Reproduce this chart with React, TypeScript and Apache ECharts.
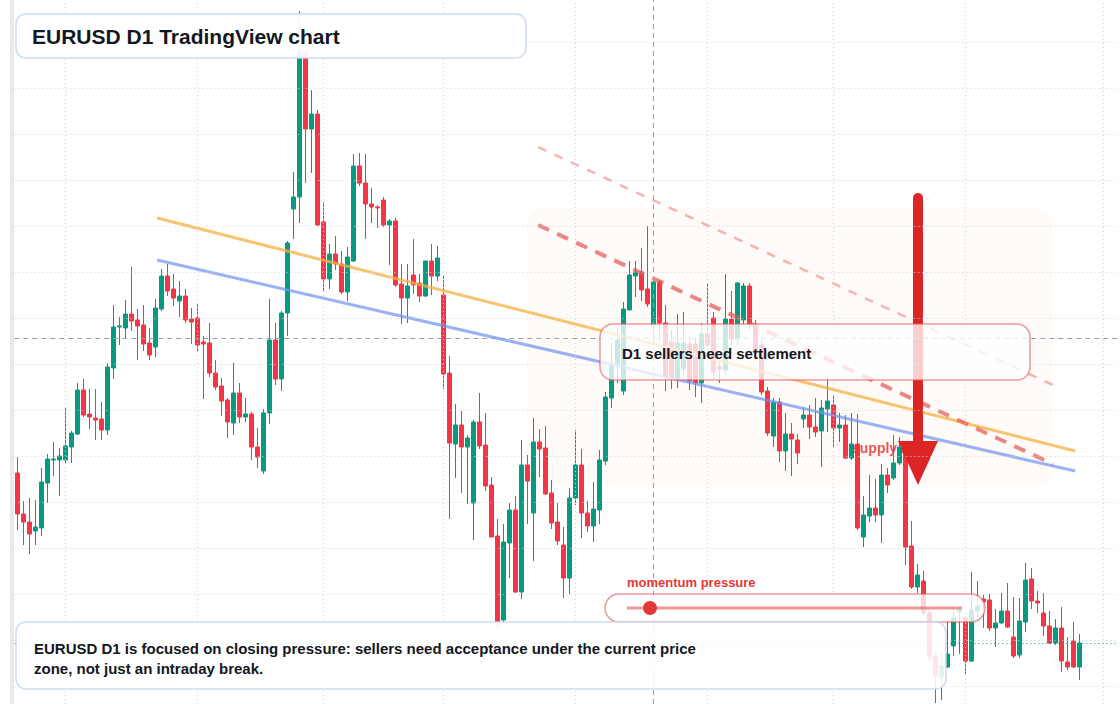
import React, { useEffect, useRef } from "react";
import * as echarts from "echarts";

// ---- Candle values (EURUSD D1) ----
const opens = [
  1.0793, 1.0752, 1.0744, 1.0735, 1.0738, 1.0783, 1.0806, 1.0806, 1.0806, 1.0819,
  1.0832, 1.0876, 1.0852, 1.0848, 1.0847, 1.0836, 1.0898, 1.0939, 1.0938, 1.0952,
  1.0946, 1.0941, 1.0923, 1.0919, 1.0957, 1.0990, 1.0977, 1.0965, 1.0970, 1.0947,
  1.0948, 1.0924, 1.0923, 1.0893, 1.0880, 1.0866, 1.0843, 1.0873, 1.0849, 1.0852,
  1.0819, 1.0795, 1.0853, 1.0926, 1.0887, 1.0953, 1.1057, 1.1069, 1.1214, 1.1137,
  1.1152, 1.1044, 1.0987, 1.1012, 1.1002, 1.0974, 1.1005, 1.1100, 1.1083, 1.1062,
  1.1059, 1.1066, 1.1041, 1.1045, 1.0982, 1.0968, 1.0991, 1.0983, 1.0970, 1.1005,
  1.0990, 1.0971, 1.0893, 1.0822, 1.0841, 1.0819, 1.0763, 1.0844, 1.0821, 1.0781,
  1.0730, 1.0646, 1.0723, 1.0756, 1.0674, 1.0801, 1.0753, 1.0824, 1.0818, 1.0773,
  1.0744, 1.0721, 1.0688, 1.0768, 1.0801, 1.0753, 1.0740, 1.0756, 1.0805, 1.0868,
  1.0902, 1.0875, 1.0956, 1.0990, 1.0994, 1.0977, 1.0941, 1.0984, 1.0943, 1.0924,
  1.0887, 1.0897, 1.0922, 1.0922, 1.0883, 1.0932, 1.0948, 1.0899, 1.0896, 1.0947,
  1.0927, 1.0946, 1.0980, 1.0942, 1.0921, 1.0875, 1.0830, 1.0864, 1.0815, 1.0832,
  1.0826, 1.0847, 1.0851, 1.0839, 1.0835, 1.0857, 1.0861, 1.0838, 1.0841, 1.0808,
  1.0822, 1.0729, 1.0750, 1.0758, 1.0751, 1.0791, 1.0788, 1.0803, 1.0819, 1.0720,
  1.0679, 1.0685, 1.0653, 1.0610, 1.0589, 1.0599, 1.0620, 1.0654, 1.0648, 1.0605,
  1.0655, 1.0667, 1.0666, 1.0638, 1.0643, 1.0655, 1.0629, 1.0611, 1.0644, 1.0687,
  1.0665, 1.0653, 1.0640, 1.0623, 1.0638, 1.0604, 1.0625, 1.0599,
];

const closes = [
  1.0752, 1.0744, 1.0732, 1.0739, 1.0784, 1.0807, 1.0807, 1.0810, 1.0820, 1.0833,
  1.0876, 1.0851, 1.0849, 1.0846, 1.0836, 1.0899, 1.0939, 1.0940, 1.0952, 1.0945,
  1.0940, 1.0922, 1.0911, 1.0958, 1.0990, 1.0975, 1.0968, 1.0970, 1.0946, 1.0944,
  1.0921, 1.0922, 1.0893, 1.0879, 1.0865, 1.0844, 1.0873, 1.0849, 1.0852, 1.0819,
  1.0809, 1.0853, 1.0926, 1.0887, 1.0953, 1.1023, 1.1069, 1.1214, 1.1137, 1.1152,
  1.1041, 1.0987, 1.1012, 1.1002, 1.0974, 1.1009, 1.1100, 1.1083, 1.1062, 1.1059,
  1.1058, 1.1041, 1.1045, 1.0981, 1.0968, 1.0980, 1.0981, 1.0970, 1.1005, 1.0990,
  1.1008, 1.0892, 1.0823, 1.0841, 1.0819, 1.0828, 1.0844, 1.0820, 1.0780, 1.0729,
  1.0644, 1.0724, 1.0756, 1.0674, 1.0801, 1.0785, 1.0824, 1.0817, 1.0772, 1.0743,
  1.0725, 1.0688, 1.0768, 1.0801, 1.0753, 1.0740, 1.0757, 1.0806, 1.0869, 1.0902,
  1.0926, 1.0957, 1.0991, 1.0994, 1.0976, 1.0962, 1.0984, 1.0943, 1.0889, 1.0888,
  1.0923, 1.0923, 1.0885, 1.0883, 1.0932, 1.0921, 1.0894, 1.0897, 1.0947, 1.0927,
  1.0983, 1.0980, 1.0942, 1.0914, 1.0874, 1.0833, 1.0864, 1.0815, 1.0832, 1.0827,
  1.0813, 1.0851, 1.0839, 1.0834, 1.0858, 1.0865, 1.0838, 1.0841, 1.0808, 1.0822,
  1.0738, 1.0751, 1.0758, 1.0751, 1.0791, 1.0781, 1.0803, 1.0819, 1.0719, 1.0679,
  1.0691, 1.0653, 1.0609, 1.0590, 1.0600, 1.0612, 1.0648, 1.0656, 1.0605, 1.0656,
  1.0660, 1.0664, 1.0638, 1.0643, 1.0655, 1.0639, 1.0610, 1.0645, 1.0686, 1.0665,
  1.0663, 1.0640, 1.0623, 1.0638, 1.0605, 1.0599, 1.0599, 1.0623,
];

const lows = [
  1.0736, 1.0721, 1.0712, 1.0721, 1.0730, 1.0763, 1.0790, 1.0770, 1.0803, 1.0803,
  1.0831, 1.0849, 1.0837, 1.0826, 1.0826, 1.0831, 1.0887, 1.0921, 1.0928, 1.0935,
  1.0906, 1.0915, 1.0906, 1.0909, 1.0955, 1.0970, 1.0960, 1.0949, 1.0943, 1.0922,
  1.0915, 1.0867, 1.0889, 1.0876, 1.0850, 1.0828, 1.0831, 1.0843, 1.0844, 1.0806,
  1.0798, 1.0792, 1.0842, 1.0881, 1.0875, 1.0930, 1.1027, 1.1043, 1.1083, 1.1093,
  1.1040, 1.0974, 1.0977, 1.0996, 1.0972, 1.0965, 1.1004, 1.1080, 1.1027, 1.1043,
  1.1038, 1.1039, 1.1001, 1.0979, 1.0942, 1.0943, 1.0972, 1.0964, 1.0969, 1.0971,
  1.0985, 1.0877, 1.0747, 1.0788, 1.0773, 1.0762, 1.0726, 1.0817, 1.0775, 1.0729,
  1.0639, 1.0643, 1.0688, 1.0673, 1.0667, 1.0742, 1.0705, 1.0789, 1.0771, 1.0737,
  1.0721, 1.0668, 1.0672, 1.0761, 1.0728, 1.0734, 1.0724, 1.0742, 1.0801, 1.0858,
  1.0883, 1.0871, 1.0956, 1.0969, 1.0965, 1.0959, 1.0921, 1.0926, 1.0875, 1.0877,
  1.0878, 1.0891, 1.0876, 1.0869, 1.0863, 1.0914, 1.0887, 1.0883, 1.0891, 1.0921,
  1.0921, 1.0942, 1.0936, 1.0906, 1.0871, 1.0830, 1.0819, 1.0804, 1.0795, 1.0790,
  1.0802, 1.0838, 1.0827, 1.0829, 1.0799, 1.0834, 1.0818, 1.0824, 1.0807, 1.0806,
  1.0736, 1.0719, 1.0744, 1.0744, 1.0723, 1.0773, 1.0786, 1.0801, 1.0701, 1.0677,
  1.0673, 1.0650, 1.0605, 1.0563, 1.0566, 1.0598, 1.0610, 1.0612, 1.0592, 1.0604,
  1.0646, 1.0638, 1.0635, 1.0619, 1.0642, 1.0638, 1.0608, 1.0608, 1.0634, 1.0657,
  1.0653, 1.0630, 1.0622, 1.0621, 1.0594, 1.0596, 1.0598, 1.0586,
];

const highs = [
  1.0809, 1.0765, 1.0768, 1.0766, 1.0798, 1.0812, 1.0824, 1.0818, 1.0859, 1.0835,
  1.0883, 1.0887, 1.0877, 1.0877, 1.0864, 1.0903, 1.0961, 1.0949, 1.0966, 1.0999,
  1.0957, 1.0961, 1.0938, 1.0967, 1.0997, 1.1002, 1.0992, 1.0985, 1.0977, 1.0958,
  1.0963, 1.0930, 1.0943, 1.0906, 1.0888, 1.0868, 1.0903, 1.0883, 1.0868, 1.0854,
  1.0838, 1.0857, 1.0967, 1.0943, 1.0955, 1.1025, 1.1094, 1.1255, 1.1221, 1.1176,
  1.1156, 1.1064, 1.1022, 1.1030, 1.1015, 1.1019, 1.1112, 1.1113, 1.1112, 1.1078,
  1.1061, 1.1069, 1.1047, 1.1048, 1.1002, 1.1002, 1.1027, 1.0992, 1.1005, 1.1022,
  1.1020, 1.0991, 1.0910, 1.0862, 1.0855, 1.0831, 1.0846, 1.0873, 1.0853, 1.0789,
  1.0747, 1.0742, 1.0763, 1.0770, 1.0826, 1.0811, 1.0848, 1.0837, 1.0840, 1.0786,
  1.0763, 1.0739, 1.0778, 1.0836, 1.0817, 1.0765, 1.0784, 1.0816, 1.0874, 1.0923,
  1.0938, 1.0964, 1.1005, 1.1005, 1.1018, 1.1040, 1.0988, 1.0986, 1.0961, 1.0936,
  1.0952, 1.0954, 1.0931, 1.0928, 1.0943, 1.0982, 1.0954, 1.0904, 1.0992, 1.0975,
  1.0984, 1.0983, 1.0983, 1.0946, 1.0926, 1.0879, 1.0868, 1.0868, 1.0853, 1.0843,
  1.0832, 1.0859, 1.0861, 1.0868, 1.0866, 1.0889, 1.0871, 1.0853, 1.0851, 1.0853,
  1.0852, 1.0770, 1.0791, 1.0787, 1.0802, 1.0798, 1.0831, 1.0829, 1.0824, 1.0745,
  1.0702, 1.0695, 1.0656, 1.0613, 1.0613, 1.0646, 1.0659, 1.0660, 1.0653, 1.0694,
  1.0685, 1.0671, 1.0672, 1.0657, 1.0673, 1.0683, 1.0669, 1.0668, 1.0703, 1.0698,
  1.0675, 1.0673, 1.0655, 1.0647, 1.0659, 1.0629, 1.0644, 1.0632,
];

// Daily categories (trading days), with a few empty days of right margin
const TOTAL_SLOTS = 184;
const categories: string[] = [];
{
  let t = Date.UTC(2023, 5, 21);
  while (categories.length < TOTAL_SLOTS) {
    const d = new Date(t);
    const wd = d.getUTCDay();
    if (wd !== 0 && wd !== 6) categories.push(d.toISOString().slice(0, 10));
    t += 86400000;
  }
}

// Month-boundary vertical grid lines (candle indices)
const monthGridIdx = [8, 30, 51, 71, 93, 115, 136, 158, 181];

// Horizontal price grid levels
const priceGridLevels = [
  1.058, 1.0626, 1.0672, 1.0718, 1.0764, 1.081, 1.0856, 1.0902,
  1.0948, 1.0994, 1.104, 1.1086, 1.1132, 1.1178, 1.1224,
];

// Visible price range
const priceMin = 1.0562;
const priceMax = 1.1266;

// Crosshair
const crossIdx = 106;
const crossPrice = 1.0928;

// Trend lines: [candle index, price]
const orangeTrend = [[23.3, 1.1048], [176.3, 1.0815]];
const blueTrend = [[23.3, 1.1006], [176.3, 1.0795]];
const redChannelLower = [[86.8, 1.1041], [172.6, 1.0802]];
const redChannelUpper = [[86.8, 1.1119], [172.6, 1.0881]];

const UP = "#089981";
const DOWN = "#f23645";
const FONT = '"Liberation Sans", Arial, Helvetica, sans-serif';

export default function App() {
  const ref = useRef<HTMLDivElement>(null);

  useEffect(() => {
    if (!ref.current) return;
    const chart = echarts.init(ref.current, null, { renderer: "svg" });

    const candles = opens.map((o, i) => [o, closes[i], lows[i], highs[i]]);
    const lastClose = closes[closes.length - 1];

    const dotted = { color: "#cfd3d9", width: 1, type: [1, 3] };

    const txt = (
      x: number,
      y: number,
      text: string,
      font: string,
      fill: string,
      z: number
    ) => ({
      type: "text",
      x,
      y,
      z,
      silent: true,
      style: {
        text,
        font,
        fill,
        align: "left",
        textAlign: "left",
        verticalAlign: "middle",
        textVerticalAlign: "middle",
      },
    });

    const option: any = {
      animation: false,
      backgroundColor: "#ffffff",
      grid: { left: 14.3, right: 1.7, top: 0, bottom: 0, containLabel: false },
      xAxis: [
        {
          type: "category",
          data: categories,
          boundaryGap: true,
          axisLine: { show: false },
          axisTick: { show: false },
          axisLabel: { show: false },
          splitLine: { show: false },
        },
        {
          type: "value",
          min: -0.5,
          max: TOTAL_SLOTS - 0.5,
          show: false,
          gridIndex: 0,
        },
      ],
      yAxis: {
        type: "value",
        min: priceMin,
        max: priceMax,
        axisLine: { show: false },
        axisTick: { show: false },
        axisLabel: { show: false },
        splitLine: { show: false },
      },
      series: [
        {
          type: "line",
          name: "grid",
          data: [],
          z: 1,
          silent: true,
          markLine: {
            silent: true,
            precision: 6,
            symbol: ["none", "none"],
            label: { show: false },
            animation: false,
            data: [
              ...priceGridLevels.map((p) => ({ yAxis: p, lineStyle: dotted })),
              ...monthGridIdx.map((i) => ({ xAxis: categories[i], lineStyle: dotted })),
              {
                yAxis: lastClose,
                lineStyle: { color: UP, width: 1, type: [1, 3] },
              },
            ],
          },
        },
        {
          type: "candlestick",
          name: "EURUSD",
          data: candles,
          barWidth: 4,
          z: 2,
          itemStyle: {
            color: UP,
            color0: DOWN,
            borderColor: UP,
            borderColor0: DOWN,
            borderWidth: 1,
          },
          markLine: {
            silent: true,
            precision: 6,
            symbol: ["none", "none"],
            label: { show: false },
            animation: false,
            data: [
              {
                xAxis: categories[crossIdx],
                lineStyle: { color: "#9a9ea6", width: 1, type: [5, 4] },
              },
              {
                yAxis: crossPrice,
                lineStyle: { color: "#9a9ea6", width: 1, type: [5, 4] },
              },
            ],
          },
        },
        {
          type: "line",
          xAxisIndex: 1,
          data: orangeTrend,
          showSymbol: false,
          silent: true,
          z: 3,
          lineStyle: { color: "rgba(247, 176, 64, 0.75)", width: 3 },
        },
        {
          type: "line",
          xAxisIndex: 1,
          data: blueTrend,
          showSymbol: false,
          silent: true,
          z: 3,
          lineStyle: { color: "rgba(110, 145, 240, 0.7)", width: 3 },
        },
        {
          type: "line",
          xAxisIndex: 1,
          data: redChannelLower,
          showSymbol: false,
          silent: true,
          z: 3,
          lineStyle: { color: "rgba(229, 83, 83, 0.7)", width: 4, type: [12, 9] },
        },
        {
          type: "line",
          xAxisIndex: 1,
          data: redChannelUpper,
          showSymbol: false,
          silent: true,
          z: 3,
          lineStyle: { color: "rgba(240, 130, 130, 0.6)", width: 2.5, type: [9, 9] },
        },
      ],
      graphic: {
        elements: [
          {
            type: "rect",
            silent: true,
            z: 1,
            shape: { x: 10, y: 0, width: 4, height: 704 },
            style: { fill: "#e9e9ea" },
          },
          {
            type: "rect",
            silent: true,
            z: 1,
            shape: { x: 527, y: 208, width: 525, height: 277, r: 16 },
            style: { fill: "rgba(250, 222, 195, 0.12)" },
          },
          txt(852, 448, "supply zone", `bold 14px ${FONT}`, "rgba(229, 57, 53, 0.85)", 4),
          {
            type: "line",
            silent: true,
            z: 5,
            shape: { x1: 918, y1: 198, x2: 918, y2: 452 },
            style: { stroke: "#dc2626", lineWidth: 10, lineCap: "round" },
          },
          {
            type: "polygon",
            silent: true,
            z: 5,
            shape: { points: [[898, 441], [938, 441], [918, 485]] },
            style: { fill: "#dc2626" },
          },
          {
            type: "rect",
            silent: true,
            z: 6,
            shape: { x: 600, y: 324, width: 430, height: 56, r: 13 },
            style: {
              fill: "rgba(255, 255, 255, 0.78)",
              stroke: "rgba(229, 83, 83, 0.6)",
              lineWidth: 1.5,
            },
          },
          txt(622, 353, "D1 sellers need settlement", `bold 15px ${FONT}`, "#131722", 7),
          txt(627, 582, "momentum pressure", `bold 13px ${FONT}`, "#e53935", 7),
          {
            type: "rect",
            silent: true,
            z: 6,
            shape: { x: 605, y: 594, width: 380, height: 28, r: 14 },
            style: {
              fill: "rgba(255, 255, 255, 0.8)",
              stroke: "rgba(229, 83, 83, 0.6)",
              lineWidth: 1.5,
            },
          },
          {
            type: "line",
            silent: true,
            z: 7,
            shape: { x1: 627, y1: 608, x2: 962, y2: 608 },
            style: { stroke: "rgba(229, 83, 83, 0.6)", lineWidth: 3 },
          },
          {
            type: "circle",
            silent: true,
            z: 8,
            shape: { cx: 650, cy: 608, r: 7 },
            style: { fill: "#e53935" },
          },
          {
            type: "rect",
            silent: true,
            z: 6,
            shape: { x: 16, y: 622, width: 930, height: 67, r: 10 },
            style: {
              fill: "rgba(255, 255, 255, 0.88)",
              stroke: "rgba(200, 215, 240, 0.9)",
              lineWidth: 1.5,
            },
          },
          txt(
            34,
            648,
            "EURUSD D1 is focused on closing pressure: sellers need acceptance under the current price",
            `bold 15px ${FONT}`,
            "#131722",
            7
          ),
          txt(34, 668, "zone, not just an intraday break.", `bold 15px ${FONT}`, "#131722", 7),
          {
            type: "rect",
            silent: true,
            z: 6,
            shape: { x: 16, y: 14, width: 510, height: 44, r: 10 },
            style: {
              fill: "rgba(255, 255, 255, 0.92)",
              stroke: "rgba(200, 215, 240, 0.9)",
              lineWidth: 1.5,
            },
          },
          txt(32, 36, "EURUSD D1 TradingView chart", `bold 21px ${FONT}`, "#131722", 7),
        ],
      },
    };

    chart.setOption(option);
    return () => {
      chart.dispose();
    };
  }, []);

  return (
    <div
      ref={ref}
      style={{
        position: "fixed",
        left: 0,
        top: 0,
        width: 1120,
        height: 704,
        background: "#ffffff",
      }}
    />
  );
}
